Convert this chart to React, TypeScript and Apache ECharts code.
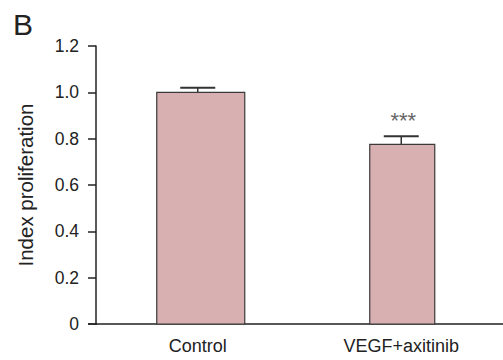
import React, { useEffect, useRef } from "react";
import * as echarts from "echarts";

const categories = ["Control", "VEGF+axitinib"];
const means = [1.0, 0.775];
const errors = [0.02, 0.035];
const significance = ["", "***"];
const yTicks = [0, 0.2, 0.4, 0.6, 0.8, 1.0, 1.2];

const BAR_WIDTHS = [88, 65];
const BAR_SHIFTS = [3, 1];
const FONT = "'Liberation Sans', Arial, Helvetica, sans-serif";

export default function App() {
  const ref = useRef<HTMLDivElement>(null);
  useEffect(() => {
    if (!ref.current) return;
    const chart = echarts.init(ref.current, null, { renderer: "svg" });
    const data = categories.map((c, i) => [i, means[i], errors[i], significance[i]]);
    chart.setOption({
      animation: false,
      textStyle: { fontFamily: FONT },
      grid: { left: 96, top: 46, bottom: 36, right: -9, containLabel: false },
      graphic: [
        {
          type: "text",
          left: 13,
          top: 9,
          style: { text: "B", fontSize: 30, fontFamily: FONT, fill: "#222" },
        },
        {
          type: "line",
          shape: { x1: 88, y1: 324, x2: 97, y2: 324 },
          style: { stroke: "#222", lineWidth: 1.5 },
        },
      ],
      xAxis: {
        type: "category",
        data: categories,
        axisLine: { lineStyle: { color: "#222", width: 1.5 } },
        axisTick: { alignWithLabel: true, length: 8, lineStyle: { color: "#222", width: 1.5 } },
        axisLabel: { color: "#222", fontSize: 18, margin: 13, fontFamily: FONT },
        splitLine: { show: false },
      },
      yAxis: {
        type: "value",
        min: 0,
        max: 1.2,
        interval: 0.2,
        name: "Index proliferation",
        nameLocation: "middle",
        nameGap: 60,
        nameTextStyle: { color: "#222", fontSize: 20.5, fontFamily: FONT },
        axisLine: { show: true, lineStyle: { color: "#222", width: 1.5 } },
        axisTick: { show: true, length: 8, lineStyle: { color: "#222", width: 1.5 } },
        axisLabel: {
          color: "#222",
          fontSize: 17.5,
          margin: 17,
          fontFamily: FONT,
          formatter: (v: number) => {
            const t = yTicks.find((k) => Math.abs(k - v) < 1e-6);
            const val = t === undefined ? v : t;
            return val === 0 ? "0" : val.toFixed(1);
          },
        },
        splitLine: { show: false },
      },
      series: [
        {
          type: "custom",
          data,
          clip: false,
          renderItem: (params: any, api: any) => {
            const idx = api.value(0);
            const mean = api.value(1);
            const err = api.value(2);
            const top = api.coord([idx, mean]);
            const base = api.coord([idx, 0]);
            const errTop = api.coord([idx, mean + err]);
            const w = BAR_WIDTHS[idx];
            const cx = top[0];
            const bx = cx + BAR_SHIFTS[idx];
            const capHalf = 17.5;
            const label = significance[idx];
            const children: any[] = [
              {
                type: "line",
                shape: { x1: cx, y1: top[1], x2: cx, y2: errTop[1] },
                style: { stroke: "#333", lineWidth: 1.5 },
              },
              {
                type: "line",
                shape: { x1: cx - capHalf, y1: errTop[1], x2: cx + capHalf, y2: errTop[1] },
                style: { stroke: "#333", lineWidth: 2 },
              },
              {
                type: "rect",
                shape: { x: bx - w / 2, y: top[1], width: w, height: base[1] - top[1] },
                style: { fill: "#d9b0b1", stroke: "#3a3a3a", lineWidth: 1.2 },
              },
            ];
            if (label) {
              children.push({
                type: "text",
                x: cx + 2,
                y: errTop[1] - 16,
                style: {
                  text: label,
                  fontSize: 22,
                  fontFamily: FONT,
                  fill: "#666",
                  align: "center",
                  verticalAlign: "middle",
                },
              });
            }
            return { type: "group", children };
          },
        },
      ],
    });
    return () => chart.dispose();
  }, []);
  return <div ref={ref} style={{ width: 503, height: 360, position: "absolute", left: 0, top: 0 }} />;
}
